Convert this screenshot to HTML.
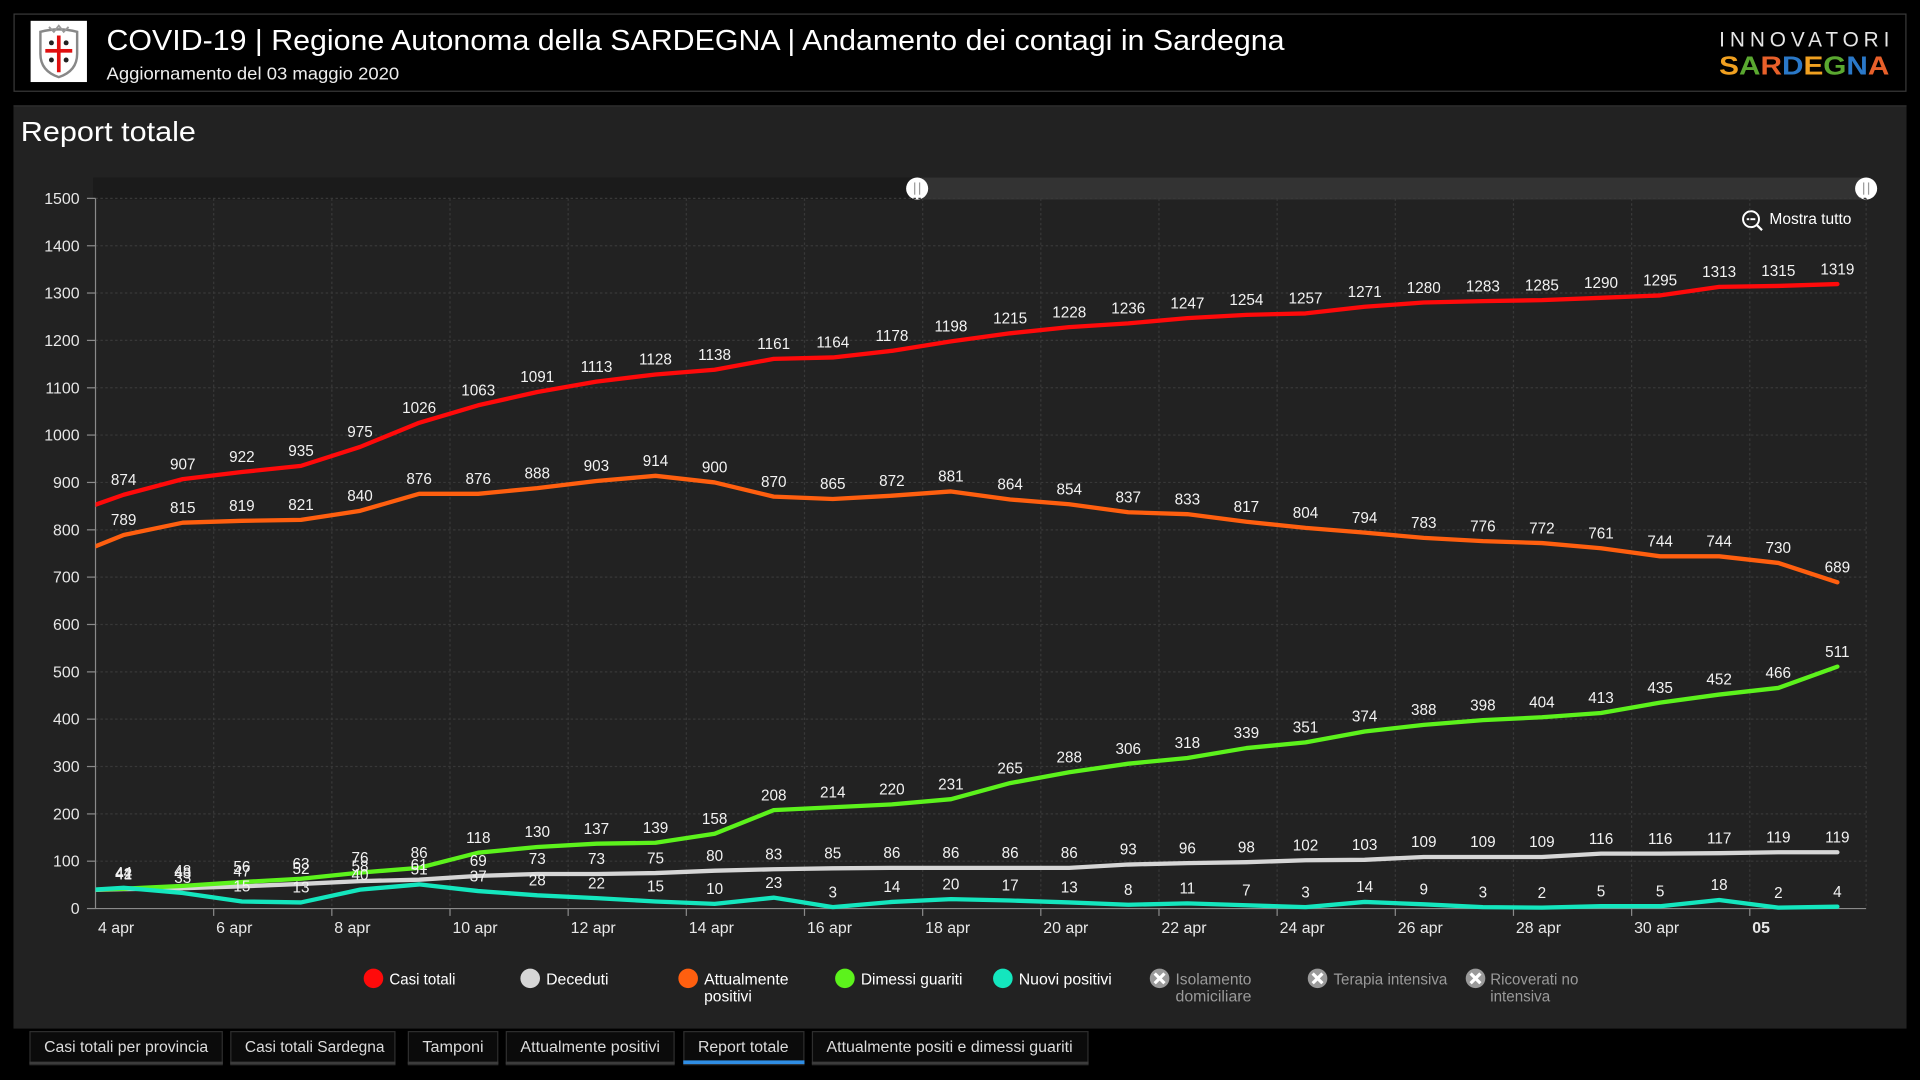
<!DOCTYPE html>
<html><head><meta charset="utf-8"><style>
html,body{margin:0;padding:0;background:#000;width:1920px;height:1080px;overflow:hidden}
svg{display:block}
text{font-family:"Liberation Sans",sans-serif}
</style></head><body>
<svg width="1920" height="1080" viewBox="0 0 1568 882" xmlns="http://www.w3.org/2000/svg">
<rect x="0" y="0" width="1568" height="882" fill="#000"/>
<!-- header -->
<rect x="11.5" y="11.5" width="1545" height="63" fill="#000" stroke="#3a3a3a" stroke-width="1"/>
<rect x="25" y="17" width="46" height="50" fill="#fff"/>
<path d="M33 26 Q48 22 63 26 L63 44 Q63 58 48 63 Q33 58 33 44 Z" fill="#fff" stroke="#888" stroke-width="2"/>
<path d="M40 22 L44 26 L48 21 L52 26 L56 22" fill="none" stroke="#999" stroke-width="1.5"/>
<rect x="46.5" y="29" width="3" height="30" fill="#e01010"/>
<rect x="37" y="40" width="22" height="3" fill="#e01010"/>
<circle cx="42" cy="35" r="2" fill="#222"/><circle cx="54" cy="35" r="2" fill="#222"/>
<circle cx="42" cy="49" r="2" fill="#222"/><circle cx="54" cy="49" r="2" fill="#222"/>
<text x="87" y="41" font-size="23.5" fill="#fff" textLength="962" lengthAdjust="spacingAndGlyphs">COVID-19 | Regione Autonoma della SARDEGNA | Andamento dei contagi in Sardegna</text>
<text x="87" y="65" font-size="14" fill="#eee" textLength="239" lengthAdjust="spacingAndGlyphs">Aggiornamento del 03 maggio 2020</text>
<text x="1404" y="38" font-size="17" fill="#e6e6e6" textLength="139" lengthAdjust="spacing">INNOVATORI</text>
<text x="1404" y="61" font-size="21" font-weight="bold" textLength="139" lengthAdjust="spacingAndGlyphs"><tspan fill="#f0a020">S</tspan><tspan fill="#5aa830">A</tspan><tspan fill="#e8602a">R</tspan><tspan fill="#2a78c8">D</tspan><tspan fill="#f0a020">E</tspan><tspan fill="#5aa830">G</tspan><tspan fill="#2a78c8">N</tspan><tspan fill="#e8602a">A</tspan></text>

<!-- panel -->
<rect x="11" y="86" width="1546" height="754" fill="#222"/>
<rect x="11" y="86" width="1546" height="1" fill="#303030"/>
<text x="17" y="115" font-size="23" fill="#fff" textLength="143" lengthAdjust="spacingAndGlyphs">Report totale</text>

<!-- scrollbar -->
<rect x="76" y="145" width="1448" height="18" fill="#1b1b1b"/>
<rect x="749" y="145" width="775" height="18" fill="#333"/>
<circle cx="749" cy="154" r="9" fill="#fff"/>
<rect x="746.5" y="149" width="1" height="10" fill="#999"/><rect x="750.5" y="149" width="1" height="10" fill="#999"/>
<circle cx="1524" cy="154" r="9" fill="#fff"/>
<rect x="1521.5" y="149" width="1" height="10" fill="#999"/><rect x="1525.5" y="149" width="1" height="10" fill="#999"/>

<!-- Mostra tutto -->
<circle cx="1430" cy="179" r="6.5" fill="none" stroke="#fff" stroke-width="1.6"/>
<rect x="1426.5" y="178.2" width="7" height="1.6" fill="#fff"/>
<line x1="1434.5" y1="183.5" x2="1439" y2="188" stroke="#fff" stroke-width="1.8"/>
<text x="1445" y="183" font-size="12.5" fill="#fff" textLength="67" lengthAdjust="spacingAndGlyphs">Mostra tutto</text>

<!-- grid -->
<g stroke="#383838" stroke-width="1" stroke-dasharray="2,2">
<line x1="78" y1="162" x2="1524" y2="162"/>
<line x1="78" y1="200.7" x2="1524" y2="200.7"/>
<line x1="78" y1="239.3" x2="1524" y2="239.3"/>
<line x1="78" y1="278" x2="1524" y2="278"/>
<line x1="78" y1="316.7" x2="1524" y2="316.7"/>
<line x1="78" y1="355.3" x2="1524" y2="355.3"/>
<line x1="78" y1="394" x2="1524" y2="394"/>
<line x1="78" y1="432.7" x2="1524" y2="432.7"/>
<line x1="78" y1="471.3" x2="1524" y2="471.3"/>
<line x1="78" y1="510" x2="1524" y2="510"/>
<line x1="78" y1="548.7" x2="1524" y2="548.7"/>
<line x1="78" y1="587.3" x2="1524" y2="587.3"/>
<line x1="78" y1="626" x2="1524" y2="626"/>
<line x1="78" y1="664.7" x2="1524" y2="664.7"/>
<line x1="78" y1="703.3" x2="1524" y2="703.3"/>
<line x1="174.5" y1="162" x2="174.5" y2="742"/>
<line x1="271" y1="162" x2="271" y2="742"/>
<line x1="367.5" y1="162" x2="367.5" y2="742"/>
<line x1="464" y1="162" x2="464" y2="742"/>
<line x1="560.5" y1="162" x2="560.5" y2="742"/>
<line x1="657" y1="162" x2="657" y2="742"/>
<line x1="753.5" y1="162" x2="753.5" y2="742"/>
<line x1="850" y1="162" x2="850" y2="742"/>
<line x1="946.5" y1="162" x2="946.5" y2="742"/>
<line x1="1043" y1="162" x2="1043" y2="742"/>
<line x1="1139.5" y1="162" x2="1139.5" y2="742"/>
<line x1="1236" y1="162" x2="1236" y2="742"/>
<line x1="1332.5" y1="162" x2="1332.5" y2="742"/>
<line x1="1429" y1="162" x2="1429" y2="742"/>
<line x1="1524" y1="162" x2="1524" y2="742"/>
</g>
<!-- axes -->
<g stroke="#8a8a8a" stroke-width="1">
<line x1="78" y1="162" x2="78" y2="742"/>
<line x1="78" y1="742" x2="1524" y2="742"/>
<line x1="71" y1="162" x2="78" y2="162"/><line x1="71" y1="200.7" x2="78" y2="200.7"/><line x1="71" y1="239.3" x2="78" y2="239.3"/><line x1="71" y1="278" x2="78" y2="278"/><line x1="71" y1="316.7" x2="78" y2="316.7"/><line x1="71" y1="355.3" x2="78" y2="355.3"/><line x1="71" y1="394" x2="78" y2="394"/><line x1="71" y1="432.7" x2="78" y2="432.7"/><line x1="71" y1="471.3" x2="78" y2="471.3"/><line x1="71" y1="510" x2="78" y2="510"/><line x1="71" y1="548.7" x2="78" y2="548.7"/><line x1="71" y1="587.3" x2="78" y2="587.3"/><line x1="71" y1="626" x2="78" y2="626"/><line x1="71" y1="664.7" x2="78" y2="664.7"/><line x1="71" y1="703.3" x2="78" y2="703.3"/><line x1="71" y1="742" x2="78" y2="742"/>
<line x1="174.5" y1="742" x2="174.5" y2="748"/><line x1="271" y1="742" x2="271" y2="748"/><line x1="367.5" y1="742" x2="367.5" y2="748"/><line x1="464" y1="742" x2="464" y2="748"/><line x1="560.5" y1="742" x2="560.5" y2="748"/><line x1="657" y1="742" x2="657" y2="748"/><line x1="753.5" y1="742" x2="753.5" y2="748"/><line x1="850" y1="742" x2="850" y2="748"/><line x1="946.5" y1="742" x2="946.5" y2="748"/><line x1="1043" y1="742" x2="1043" y2="748"/><line x1="1139.5" y1="742" x2="1139.5" y2="748"/><line x1="1236" y1="742" x2="1236" y2="748"/><line x1="1332.5" y1="742" x2="1332.5" y2="748"/><line x1="1429" y1="742" x2="1429" y2="748"/>
</g>
<!-- y labels -->
<g font-size="13" fill="#e8e8e8" text-anchor="end">
<text x="65" y="166.5">1500</text><text x="65" y="205.2">1400</text><text x="65" y="243.8">1300</text><text x="65" y="282.5">1200</text><text x="65" y="321.2">1100</text><text x="65" y="359.8">1000</text><text x="65" y="398.5">900</text><text x="65" y="437.2">800</text><text x="65" y="475.8">700</text><text x="65" y="514.5">600</text><text x="65" y="553.2">500</text><text x="65" y="591.8">400</text><text x="65" y="630.5">300</text><text x="65" y="669.2">200</text><text x="65" y="707.8">100</text><text x="65" y="746.5">0</text>
</g>
<!-- x labels -->
<g font-size="13" fill="#e8e8e8">
<text x="80" y="762">4 apr</text><text x="176.5" y="762">6 apr</text><text x="273" y="762">8 apr</text><text x="369.5" y="762">10 apr</text><text x="466" y="762">12 apr</text><text x="562.5" y="762">14 apr</text><text x="659" y="762">16 apr</text><text x="755.5" y="762">18 apr</text><text x="852" y="762">20 apr</text><text x="948.5" y="762">22 apr</text><text x="1045" y="762">24 apr</text><text x="1141.5" y="762">26 apr</text><text x="1238" y="762">28 apr</text><text x="1334.5" y="762">30 apr</text><text x="1431" y="762" font-weight="bold">05</text>
</g>

<!-- series -->
<defs><clipPath id="cp"><rect x="78" y="150" width="1450" height="600"/></clipPath></defs>
<g clip-path="url(#cp)">
<g transform="translate(101 742) scale(48.26 -0.386667)" fill="none" stroke-linejoin="round" stroke-linecap="round">
<polyline vector-effect="non-scaling-stroke" stroke="#d6d6d6" stroke-width="4.3" points="-1,38 0,41 1,43 2,47 3,52 4,58 5,61 6,69 7,73 8,73 9,75 10,80 11,83 12,85 13,86 14,86 15,86 16,86 17,93 18,96 19,98 20,102 21,103 22,109 23,109 24,109 25,116 26,116 27,117 28,119 29,119"/>
<polyline vector-effect="non-scaling-stroke" stroke="#5cf21c" stroke-width="4.3" points="-1,38 0,42 1,48 2,56 3,63 4,76 5,86 6,118 7,130 8,137 9,139 10,158 11,208 12,214 13,220 14,231 15,265 16,288 17,306 18,318 19,339 20,351 21,374 22,388 23,398 24,404 25,413 26,435 27,452 28,466 29,511"/>
<polyline vector-effect="non-scaling-stroke" stroke="#14e6be" stroke-width="4.3" points="-1,36 0,44 1,33 2,15 3,13 4,40 5,51 6,37 7,28 8,22 9,15 10,10 11,23 12,3 13,14 14,20 15,17 16,13 17,8 18,11 19,7 20,3 21,14 22,9 23,3 24,2 25,5 26,5 27,18 28,2 29,4"/>
<polyline vector-effect="non-scaling-stroke" stroke="#ff5f0f" stroke-width="4.3" points="-1,739 0,789 1,815 2,819 3,821 4,840 5,876 6,876 7,888 8,903 9,914 10,900 11,870 12,865 13,872 14,881 15,864 16,854 17,837 18,833 19,817 20,804 21,794 22,783 23,776 24,772 25,761 26,744 27,744 28,730 29,689"/>
<polyline vector-effect="non-scaling-stroke" stroke="#ff0a0a" stroke-width="4.3" points="-1,830 0,874 1,907 2,922 3,935 4,975 5,1026 6,1063 7,1091 8,1113 9,1128 10,1138 11,1161 12,1164 13,1178 14,1198 15,1215 16,1228 17,1236 18,1247 19,1254 20,1257 21,1271 22,1280 23,1283 24,1285 25,1290 26,1295 27,1313 28,1315 29,1319"/>
</g>
</g>

<!-- data labels -->
<g font-size="12.5" fill="#f2f2f2" text-anchor="middle">
<text x="101" y="396.1">874</text><text x="149.3" y="383.3">907</text><text x="197.5" y="377.5">922</text><text x="245.8" y="372.5">935</text><text x="294" y="357">975</text><text x="342.3" y="337.3">1026</text><text x="390.6" y="323">1063</text><text x="438.8" y="312.1">1091</text><text x="487.1" y="303.6">1113</text><text x="535.3" y="297.8">1128</text><text x="583.6" y="294">1138</text><text x="631.9" y="285.1">1161</text><text x="680.1" y="283.9">1164</text><text x="728.4" y="278.5">1178</text><text x="776.6" y="270.8">1198</text><text x="824.9" y="264.2">1215</text><text x="873.2" y="259.2">1228</text><text x="921.4" y="256.1">1236</text><text x="969.7" y="251.8">1247</text><text x="1017.9" y="249.1">1254</text><text x="1066.2" y="248">1257</text><text x="1114.5" y="242.5">1271</text><text x="1162.7" y="239.1">1280</text><text x="1211" y="237.9">1283</text><text x="1259.2" y="237.1">1285</text><text x="1307.5" y="235.2">1290</text><text x="1355.8" y="233.3">1295</text><text x="1404" y="226.3">1313</text><text x="1452.3" y="225.5">1315</text><text x="1500.5" y="224">1319</text>

<text x="101" y="428.9">789</text><text x="149.3" y="418.9">815</text><text x="197.5" y="417.3">819</text><text x="245.8" y="416.5">821</text><text x="294" y="409.2">840</text><text x="342.3" y="395.3">876</text><text x="390.6" y="395.3">876</text><text x="438.8" y="390.6">888</text><text x="487.1" y="384.8">903</text><text x="535.3" y="380.6">914</text><text x="583.6" y="386">900</text><text x="631.9" y="397.6">870</text><text x="680.1" y="399.5">865</text><text x="728.4" y="396.8">872</text><text x="776.6" y="393.3">881</text><text x="824.9" y="399.9">864</text><text x="873.2" y="403.8">854</text><text x="921.4" y="410.4">837</text><text x="969.7" y="411.9">833</text><text x="1017.9" y="418.1">817</text><text x="1066.2" y="423.1">804</text><text x="1114.5" y="427">794</text><text x="1162.7" y="431.2">783</text><text x="1211" y="434">776</text><text x="1259.2" y="435.5">772</text><text x="1307.5" y="439.8">761</text><text x="1355.8" y="446.3">744</text><text x="1404" y="446.3">744</text><text x="1452.3" y="451.7">730</text><text x="1500.5" y="467.6">689</text>

<text x="101" y="717.8">42</text><text x="149.3" y="715.4">48</text><text x="197.5" y="712.3">56</text><text x="245.8" y="709.6">63</text><text x="294" y="704.6">76</text><text x="342.3" y="700.7">86</text><text x="390.6" y="688.4">118</text><text x="438.8" y="683.7">130</text><text x="487.1" y="681">137</text><text x="535.3" y="680.3">139</text><text x="583.6" y="672.9">158</text><text x="631.9" y="653.6">208</text><text x="680.1" y="651.3">214</text><text x="728.4" y="648.9">220</text><text x="776.6" y="644.7">231</text><text x="824.9" y="631.5">265</text><text x="873.2" y="622.6">288</text><text x="921.4" y="615.7">306</text><text x="969.7" y="611">318</text><text x="1017.9" y="602.9">339</text><text x="1066.2" y="598.3">351</text><text x="1114.5" y="589.4">374</text><text x="1162.7" y="584">388</text><text x="1211" y="580.1">398</text><text x="1259.2" y="577.8">404</text><text x="1307.5" y="574.3">413</text><text x="1355.8" y="565.8">435</text><text x="1404" y="559.2">452</text><text x="1452.3" y="553.8">466</text><text x="1500.5" y="536.4">511</text>

<text x="101" y="718.1">41</text><text x="149.3" y="717.4">43</text><text x="197.5" y="715.8">47</text><text x="245.8" y="713.9">52</text><text x="294" y="711.6">58</text><text x="342.3" y="710.4">61</text><text x="390.6" y="707.3">69</text><text x="438.8" y="705.8">73</text><text x="487.1" y="705.8">73</text><text x="535.3" y="705">75</text><text x="583.6" y="703.1">80</text><text x="631.9" y="701.9">83</text><text x="680.1" y="701.1">85</text><text x="728.4" y="700.7">86</text><text x="776.6" y="700.7">86</text><text x="824.9" y="700.7">86</text><text x="873.2" y="700.7">86</text><text x="921.4" y="698">93</text><text x="969.7" y="696.9">96</text><text x="1017.9" y="696.1">98</text><text x="1066.2" y="694.6">102</text><text x="1114.5" y="694.2">103</text><text x="1162.7" y="691.9">109</text><text x="1211" y="691.9">109</text><text x="1259.2" y="691.9">109</text><text x="1307.5" y="689.1">116</text><text x="1355.8" y="689.1">116</text><text x="1404" y="688.8">117</text><text x="1452.3" y="688">119</text><text x="1500.5" y="688">119</text>

<text x="101" y="717">44</text><text x="149.3" y="721.2">33</text><text x="197.5" y="728.2">15</text><text x="245.8" y="729">13</text><text x="294" y="718.5">40</text><text x="342.3" y="714.3">51</text><text x="390.6" y="719.7">37</text><text x="438.8" y="723.2">28</text><text x="487.1" y="725.5">22</text><text x="535.3" y="728.2">15</text><text x="583.6" y="730.1">10</text><text x="631.9" y="725.1">23</text><text x="680.1" y="732.8">3</text><text x="728.4" y="728.6">14</text><text x="776.6" y="726.3">20</text><text x="824.9" y="727.4">17</text><text x="873.2" y="729">13</text><text x="921.4" y="730.9">8</text><text x="969.7" y="729.7">11</text><text x="1017.9" y="731.3">7</text><text x="1066.2" y="732.8">3</text><text x="1114.5" y="728.6">14</text><text x="1162.7" y="730.5">9</text><text x="1211" y="732.8">3</text><text x="1259.2" y="733.2">2</text><text x="1307.5" y="732.1">5</text><text x="1355.8" y="732.1">5</text><text x="1404" y="727">18</text><text x="1452.3" y="733.2">2</text><text x="1500.5" y="732.5">4</text>
</g>

<!-- legend -->
<circle cx="305" cy="799" r="8" fill="#ff0a0a"/>
<circle cx="433" cy="799" r="8" fill="#d6d6d6"/>
<circle cx="562" cy="799" r="8" fill="#ff5f0f"/>
<circle cx="690" cy="799" r="8" fill="#5cf21c"/>
<circle cx="819" cy="799" r="8" fill="#14e6be"/>
<g font-size="12.5" fill="#fff">
<text x="318" y="804" textLength="54" lengthAdjust="spacingAndGlyphs">Casi totali</text>
<text x="446" y="804" textLength="51" lengthAdjust="spacingAndGlyphs">Deceduti</text>
<text x="575" y="804" textLength="69" lengthAdjust="spacingAndGlyphs">Attualmente</text>
<text x="575" y="818" textLength="39" lengthAdjust="spacingAndGlyphs">positivi</text>
<text x="703" y="804" textLength="83" lengthAdjust="spacingAndGlyphs">Dimessi guariti</text>
<text x="832" y="804" textLength="76" lengthAdjust="spacingAndGlyphs">Nuovi positivi</text>
</g>
<g>
<circle cx="947" cy="799" r="8" fill="#9a9a9a"/>
<path d="M943 795 L951 803 M951 795 L943 803" stroke="#fff" stroke-width="2.6"/>
<circle cx="1076" cy="799" r="8" fill="#9a9a9a"/>
<path d="M1072 795 L1080 803 M1080 795 L1072 803" stroke="#fff" stroke-width="2.6"/>
<circle cx="1205" cy="799" r="8" fill="#9a9a9a"/>
<path d="M1201 795 L1209 803 M1209 795 L1201 803" stroke="#fff" stroke-width="2.6"/>
</g>
<g font-size="12.5" fill="#9a9a9a">
<text x="960" y="804" textLength="62" lengthAdjust="spacingAndGlyphs">Isolamento</text>
<text x="960" y="818" textLength="62" lengthAdjust="spacingAndGlyphs">domiciliare</text>
<text x="1089" y="804" textLength="93" lengthAdjust="spacingAndGlyphs">Terapia intensiva</text>
<text x="1217" y="804" textLength="72" lengthAdjust="spacingAndGlyphs">Ricoverati no</text>
<text x="1217" y="818" textLength="49" lengthAdjust="spacingAndGlyphs">intensiva</text>
</g>

<!-- tabs -->
<g fill="#0b0b0b" stroke="#2e2e2e" stroke-width="1">
<rect x="24.5" y="842.5" width="157" height="27"/>
<rect x="188.5" y="842.5" width="134" height="27"/>
<rect x="333.5" y="842.5" width="73" height="27"/>
<rect x="413.5" y="842.5" width="137" height="27"/>
<rect x="558.5" y="842.5" width="98" height="27"/>
<rect x="663.5" y="842.5" width="225" height="27"/>
</g>
<g fill="#3c3c3c">
<rect x="24" y="867" width="158" height="2"/>
<rect x="188" y="867" width="135" height="2"/>
<rect x="333" y="867" width="74" height="2"/>
<rect x="413" y="867" width="138" height="2"/>
<rect x="663" y="867" width="226" height="2"/>
</g>
<rect x="558" y="866" width="99" height="3" fill="#2f8de4"/>
<g font-size="12.5" fill="#dcdcdc">
<text x="36" y="859" textLength="134" lengthAdjust="spacingAndGlyphs">Casi totali per provincia</text>
<text x="200" y="859" textLength="114" lengthAdjust="spacingAndGlyphs">Casi totali Sardegna</text>
<text x="345" y="859" textLength="50" lengthAdjust="spacingAndGlyphs">Tamponi</text>
<text x="425" y="859" textLength="114" lengthAdjust="spacingAndGlyphs">Attualmente positivi</text>
<text x="570" y="859" textLength="74" lengthAdjust="spacingAndGlyphs">Report totale</text>
<text x="675" y="859" textLength="201" lengthAdjust="spacingAndGlyphs">Attualmente positi e dimessi guariti</text>
</g>
</svg>
</body></html>
